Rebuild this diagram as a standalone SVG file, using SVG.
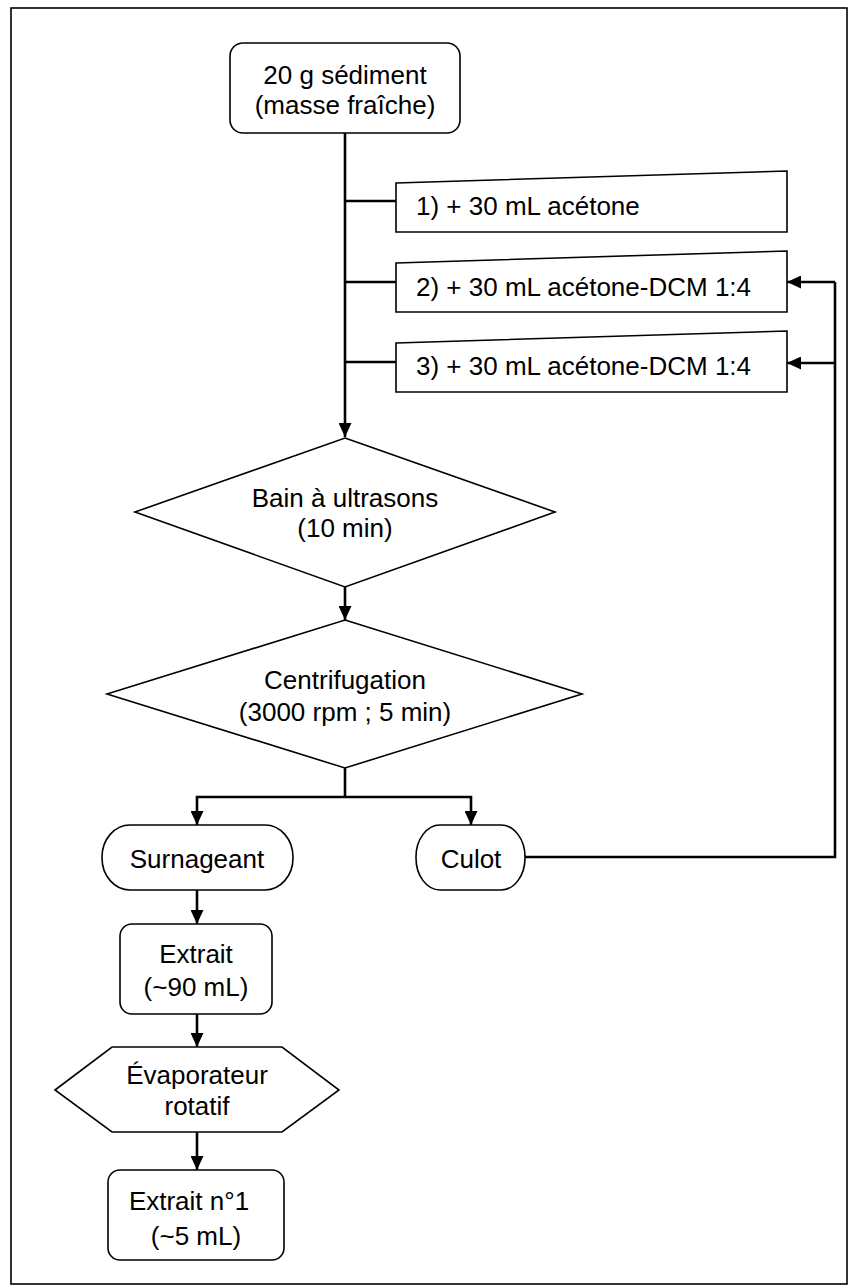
<svg xmlns="http://www.w3.org/2000/svg" width="849" height="1288" viewBox="0 0 849 1288">
<defs>
<marker id="ah" markerUnits="userSpaceOnUse" markerWidth="14" markerHeight="13" viewBox="0 0 14 13" refX="14" refY="6.5" orient="auto">
<path d="M0,0 L14,6.5 L0,13 z" fill="#000"/>
</marker>
<style>
.shape{fill:#fff;stroke:#000;stroke-width:1.6}
.frame{fill:#fff;stroke:#000;stroke-width:1.6}
.conn{fill:none;stroke:#000;stroke-width:2.6}
.arr{marker-end:url(#ah)}
text{font-family:"Liberation Sans",Arial,sans-serif;font-size:26px;fill:#000}
.c{text-anchor:middle}
</style>
</defs>
<rect class="frame" x="11" y="8" width="836" height="1276"/>
<g id="connectors">
<path class="conn arr" d="M345,133 L345,437"/>
<path class="conn" d="M345,201 L396,201"/>
<path class="conn" d="M345,282 L396,282"/>
<path class="conn" d="M345,362 L396,362"/>
<path class="conn arr" d="M345,587 L345,620"/>
<path class="conn" d="M345,768 L345,797"/>
<path class="conn arr" d="M345,797 L197,797 L197,825"/>
<path class="conn arr" d="M345,797 L471,797 L471,825"/>
<path class="conn" d="M525,857 L835,857 L835,282"/>
<path class="conn arr" d="M835,282 L787,282"/>
<path class="conn arr" d="M835,363 L787,363"/>
<path class="conn arr" d="M197,890 L197,924"/>
<path class="conn arr" d="M197,1014 L197,1047"/>
<path class="conn arr" d="M197,1132 L197,1170"/>
</g>
<g id="n-sediment">
<rect class="shape" x="230" y="43" width="230" height="90" rx="13"/>
<text class="c" x="345" y="84">20 g sédiment</text>
<text class="c" x="345" y="114">(masse fraîche)</text>
</g>
<g id="n-acetone1">
<polygon class="shape" points="396,183 787,171 787,232 396,232"/>
<text x="416" y="215">1) + 30 mL acétone</text>
</g>
<g id="n-acetone2">
<polygon class="shape" points="396,263 787,251 787,312 396,312"/>
<text x="416" y="296">2) + 30 mL acétone-DCM 1:4</text>
</g>
<g id="n-acetone3">
<polygon class="shape" points="396,343 787,331 787,392 396,392"/>
<text x="416" y="375">3) + 30 mL acétone-DCM 1:4</text>
</g>
<g id="n-ultrasons">
<polygon class="shape" points="345,438 555,512 345,587 135,512"/>
<text class="c" x="345" y="507">Bain à ultrasons</text>
<text class="c" x="345" y="537">(10 min)</text>
</g>
<g id="n-centrifugation">
<polygon class="shape" points="345,620 582,694 345,768 107,694"/>
<text class="c" x="345" y="689">Centrifugation</text>
<text class="c" x="345" y="721">(3000 rpm ; 5 min)</text>
</g>
<g id="n-surnageant">
<rect class="shape" x="102" y="825" width="191" height="65" rx="28" ry="32"/>
<text class="c" x="197" y="868">Surnageant</text>
</g>
<g id="n-culot">
<rect class="shape" x="416" y="825" width="109" height="65" rx="24" ry="32"/>
<text class="c" x="471" y="868">Culot</text>
</g>
<g id="n-extrait">
<rect class="shape" x="120" y="924" width="152" height="90" rx="12"/>
<text class="c" x="196" y="963">Extrait</text>
<text class="c" x="196" y="996">(~90 mL)</text>
</g>
<g id="n-evaporateur">
<polygon class="shape" points="55,1090 112,1047 282,1047 339,1090 282,1132 112,1132"/>
<text class="c" x="197" y="1084">Évaporateur</text>
<text class="c" x="197" y="1115">rotatif</text>
</g>
<g id="n-extrait1">
<rect class="shape" x="108" y="1170" width="176" height="90" rx="12"/>
<text class="c" x="189" y="1210">Extrait n°1</text>
<text class="c" x="196" y="1245">(~5 mL)</text>
</g>
</svg>
